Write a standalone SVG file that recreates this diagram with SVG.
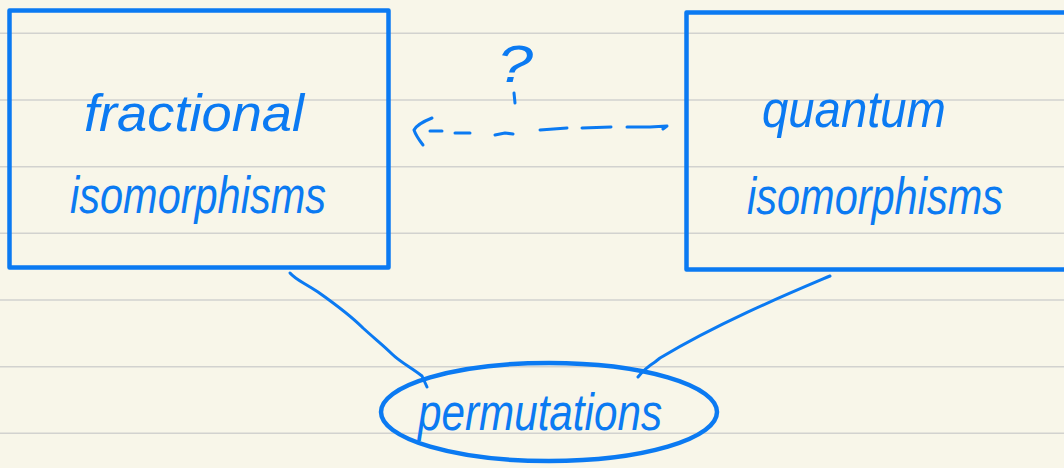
<svg xmlns="http://www.w3.org/2000/svg" width="1064" height="468" viewBox="0 0 1064 468">
<style>
.ink{fill:none;stroke:#0b7af2;stroke-linecap:round;stroke-linejoin:round}
.box{stroke-width:4.5}
.conn{stroke-width:3}
.rule{stroke:#d2d2cf;stroke-width:1.5}
.t{font-family:"Liberation Sans",Arial,sans-serif;font-style:italic;fill:#0b7af2;font-size:52px}
</style>
<rect width="1064" height="468" fill="#f8f6e9"/>
<g id="rules">
<line class="rule" x1="0" y1="33.3" x2="1064" y2="33.3"/>
<line class="rule" x1="0" y1="100" x2="1064" y2="100"/>
<line class="rule" x1="0" y1="166.7" x2="1064" y2="166.7"/>
<line class="rule" x1="0" y1="233.3" x2="1064" y2="233.3"/>
<line class="rule" x1="0" y1="300" x2="1064" y2="300"/>
<line class="rule" x1="0" y1="366.7" x2="1064" y2="366.7"/>
<line class="rule" x1="0" y1="433.3" x2="1064" y2="433.3"/>
</g>
<g id="connectors">
<path class="ink conn" d="M290 273 C296 280 303 282 318 292 C335 304 350 315 363 328 C375 339 383 345 392 354 C400 362 412 368 422 376 L427 387"/>
<path class="ink conn" d="M830 276 C790 293 720 322 660 358 L655 362 C647 367 642 372 638 377"/>
<g id="dashed-arrow">
<path class="ink conn" d="M432 118 C422 122 416 126 414 130 C416 136 420 141 423 145"/>
<path class="ink conn" d="M430 131 L442 131 M455 133 L470 133 M495 135 L505 133 L513 134 M540 130 L567 128 M582 128 L611 127 M627 127 L650 127 L667 126 L663 129"/>
</g>
<text class="t" x="497" y="82" font-size="50" textLength="36" lengthAdjust="spacingAndGlyphs">?</text>
<path class="ink conn" d="M514 93 L515 103"/>
</g>
<g id="node-fractional">
<rect class="ink box" x="9.5" y="10.5" width="379" height="257"/>
<text class="t" x="84" y="131" textLength="220" lengthAdjust="spacingAndGlyphs">fractional</text>
<text class="t" x="70" y="213" font-size="50" textLength="256" lengthAdjust="spacingAndGlyphs">isomorphisms</text>
</g>
<g id="node-quantum">
<rect class="ink box" x="686.5" y="12.5" width="400" height="257"/>
<text class="t" x="762" y="127" font-size="50" textLength="184" lengthAdjust="spacingAndGlyphs">quantum</text>
<text class="t" x="747" y="214" font-size="50" textLength="256" lengthAdjust="spacingAndGlyphs">isomorphisms</text>
</g>
<g id="node-permutations">
<ellipse class="ink box" cx="549" cy="412" rx="168" ry="49"/>
<text class="t" x="418" y="430" textLength="244" lengthAdjust="spacingAndGlyphs">permutations</text>
</g>
</svg>
